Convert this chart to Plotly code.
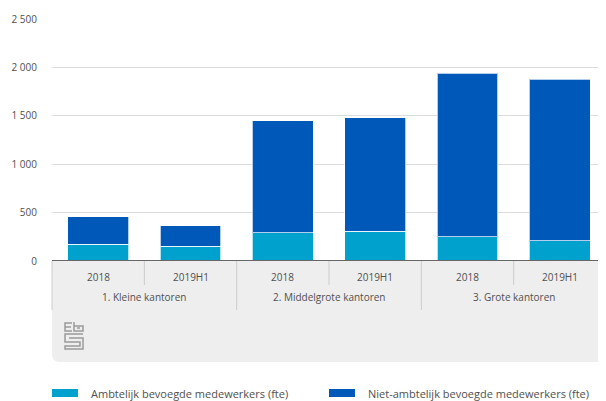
import plotly.graph_objects as go

groups = ["1. Kleine kantoren", "1. Kleine kantoren",
          "2. Middelgrote kantoren", "2. Middelgrote kantoren",
          "3. Grote kantoren", "3. Grote kantoren"]
periods = ["2018", "2019H1", "2018", "2019H1", "2018", "2019H1"]
ambtelijk = [172, 155, 292, 307, 251, 210]
niet_ambtelijk = [286, 207, 1158, 1174, 1691, 1667]
series_names = ["Ambtelijk bevoegde medewerkers (fte)",
                "Niet-ambtelijk bevoegde medewerkers (fte)"]
y_ticks = [0, 500, 1000, 1500, 2000, 2500]

LIGHT = "#00a1cd"
DARK = "#0058b8"
COLORS = [LIGHT, DARK]
FONT = "Open Sans"
TXT = "#505050"

fig = go.Figure()
for vals, name, col in zip([ambtelijk, niet_ambtelijk], series_names, COLORS):
    fig.add_trace(go.Bar(x=[groups, periods], y=vals, name=name,
                         marker=dict(color=col, line=dict(color="rgba(255,255,255,0.7)", width=1))))

# page body has an 8px margin: design in window pixels, compensate here
OFF = 8
W, H = 606 - OFF, 401 - OFF
L, R, T = 52 - OFF, 0, 19 - OFF
B = H - (261 - OFF)
ph = H - T - B
pw = W - L - R

def py(win_y):
    return (H - B - (win_y - OFF)) / ph

def px(win_x):
    return (win_x - OFF - L) / pw

shapes = []
annotations = []
# gray panel with rounded bottom-left corner
y0 = py(261)
y1 = py(362)
r = 8 / ph
rx = 8 / pw
shapes.append(dict(type="path", xref="paper", yref="paper", layer="below",
                   path=f"M 0 {y0} L 1 {y0} L 1 {y1} L {rx} {y1} Q 0 {y1} 0 {y1 + r} Z",
                   fillcolor="#eeeeee", line=dict(width=0)))
n = len(periods)
# left border + group dividers (long) and within-group dividers (short)
for k in range(n):
    long_div = k == 0 or groups[k] != groups[k - 1]
    shapes.append(dict(type="line", xref="x domain", yref="paper", x0=k / n, x1=k / n,
                       y0=y0, y1=py(310 if long_div else 285),
                       line=dict(color="#cccccc", width=1)))
# axis line
shapes.append(dict(type="line", xref="x domain", yref="y", x0=0, x1=1, y0=0, y1=0,
                   line=dict(color="#666666", width=2)))

# category labels (two levels)
for k, p in enumerate(periods):
    annotations.append(dict(xref="x domain", yref="paper", x=(k + 0.5) / n, y=py(277),
                            text=p, showarrow=False, xanchor="center", yanchor="middle",
                            font=dict(size=10, color=TXT)))
seen = []
for g in groups:
    if g not in seen:
        seen.append(g)
for g in seen:
    idx = [k for k, gg in enumerate(groups) if gg == g]
    xc = (min(idx) + max(idx) + 1) / 2 / n
    annotations.append(dict(xref="x domain", yref="paper", x=xc, y=py(297),
                            text=g, showarrow=False, xanchor="center", yanchor="middle",
                            font=dict(size=10, color=TXT)))

# CBS logo approximation (gray maze)
def lp(pts):
    return "M " + " L ".join(f"{px(x)} {py(y)}" for x, y in pts)
logo = [
    [(72, 323), (65, 323), (65, 331), (72, 331)],
    [(65, 327), (71, 327)],
    [(74, 322), (74, 331), (83, 331), (83, 326), (74, 326)],
    [(77, 328), (80, 328)],
    [(83, 334), (65, 334), (65, 342), (80, 342), (80, 346), (65, 346), (65, 349), (83, 349), (83, 338), (69, 338)],
]
for p in logo:
    shapes.append(dict(type="path", xref="paper", yref="paper", path=lp(p),
                       line=dict(color="#9a9a9a", width=1.5)))

# custom legend: wide swatches + text
legend_x = [52, 329]
for lx, name, col in zip(legend_x, series_names, COLORS):
    shapes.append(dict(type="rect", xref="paper", yref="paper",
                       x0=px(lx), x1=px(lx + 26), y0=py(389), y1=py(397),
                       fillcolor=col, line=dict(width=0)))
    annotations.append(dict(xref="paper", yref="paper", x=px(lx + 37), y=py(393),
                            text=name, showarrow=False, xanchor="left", yanchor="middle",
                            font=dict(size=11, color=TXT)))

fig.update_layout(
    width=W, height=H,
    margin=dict(l=L, r=R, t=T, b=B, autoexpand=False),
    barmode="stack", bargap=0.34,
    plot_bgcolor="white", paper_bgcolor="white",
    separators=", ",
    font=dict(family=FONT, size=10, color=TXT),
    shapes=shapes,
    annotations=annotations,
    showlegend=False,
    xaxis=dict(type="multicategory", showdividers=False, showline=False, ticks="",
               showticklabels=False, showgrid=False, automargin=False),
    yaxis=dict(range=[0, 2500], tickvals=y_ticks, tickformat=",d", showline=False,
               gridcolor="#dcdcdc", gridwidth=1, zeroline=False, ticks="",
               ticklabelstandoff=14, tickfont=dict(size=10, color=TXT),
               automargin=False),
)

fig.write_html("out.html")
